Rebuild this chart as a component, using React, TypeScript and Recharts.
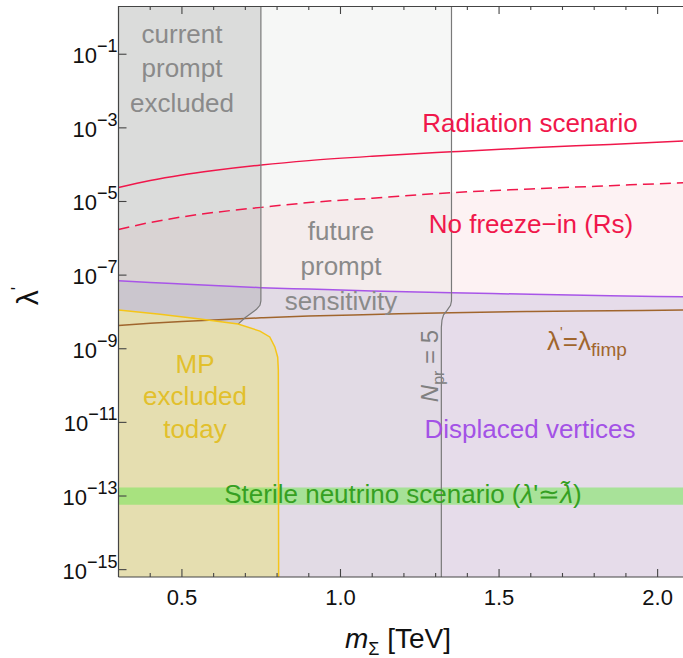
import React from 'react';
import { ComposedChart, Area, Line, XAxis, YAxis } from 'recharts';

// axis ranges (y is log10 of lambda')
const X_MIN = 0.3;
const X_MAX = 2.08;
const Y_MIN = -15.2;
const Y_MAX = 0.31;

const xTicks = [0.4, 0.5, 0.6, 0.7, 0.8, 0.9, 1.0, 1.1, 1.2, 1.3, 1.4, 1.5, 1.6, 1.7, 1.8, 1.9, 2.0];
const yTicks = [-15, -13, -11, -9, -7, -5, -3, -1];

// mass grid [TeV] and log10(lambda') of each curve
const massGrid = [0.3, 0.4, 0.5, 0.6, 0.75, 0.9, 1.1, 1.35, 1.6, 1.85, 2.08];
const radiation = [-4.62, -4.43, -4.28, -4.16, -4.01, -3.89, -3.77, -3.65, -3.54, -3.45, -3.36];
const noFreezeIn = [-5.76, -5.57, -5.42, -5.3, -5.16, -5.03, -4.91, -4.76, -4.66, -4.57, -4.49];
const displaced = [-7.15, -7.2, -7.24, -7.28, -7.34, -7.38, -7.43, -7.48, -7.52, -7.56, -7.59];
const fimp = [-8.37, -8.31, -8.26, -8.22, -8.16, -8.11, -8.07, -8.02, -7.99, -7.97, -7.95];

// current prompt boundary (top -> bottom)
const currentM = [0.749, 0.749, 0.746, 0.735, 0.7, 0.677];
const currentL = [Y_MAX, -7.7, -7.82, -7.93, -8.15, -8.33];

// future prompt boundary, N_pr = 5 (top -> bottom)
const futureM = [1.35, 1.35, 1.347, 1.336, 1.325, 1.32, 1.318, 1.318];
const futureL = [Y_MAX, -7.7, -7.82, -7.96, -8.08, -8.22, -8.42, Y_MIN];

// MP excluded today boundary (left -> right)
const mpM = [0.3, 0.431, 0.557, 0.677, 0.746, 0.777, 0.793, 0.802, 0.804, 0.805];
const mpL = [-7.95, -8.06, -8.19, -8.33, -8.52, -8.68, -8.95, -9.23, -9.58, Y_MIN];

// sterile neutrino band
const sterileLow = -13.24;
const sterileHigh = -12.77;

const toLine = (ms: number[], ls: number[]) => ms.map((m, i) => ({ m, v: ls[i] }));

const purpleArea = massGrid.map((m, i) => ({ m, r: [Y_MIN, displaced[i]] }));
const pinkArea = massGrid.map((m, i) => ({ m, r: [displaced[i], noFreezeIn[i]] }));
const futureArea = [
  { m: X_MIN, r: [Y_MIN, Y_MAX] },
  ...futureM.map((m, i) => ({ m, r: [futureL[i], Y_MAX] })).reverse(),
];
const currentArea = [
  ...mpM.slice(0, 4).map((m, i) => ({ m, r: [mpL[i], Y_MAX] })),
  ...currentM.slice(0, 5).map((m, i) => ({ m, r: [currentL[i], Y_MAX] })).reverse(),
];
const mpArea = mpM.map((m, i) => ({ m, r: [Y_MIN, mpL[i]] }));
const sterileArea = [
  { m: X_MIN, r: [sterileLow, sterileHigh] },
  { m: X_MAX, r: [sterileLow, sterileHigh] },
];

// plot box in page pixels (chart margins + axis sizes below)
const PLOT_LEFT = 118.5;
const PLOT_TOP = 6;
const PLOT_RIGHT = 683;
const PLOT_BOTTOM = 577;
const px = (m: number) => PLOT_LEFT + ((m - X_MIN) / (X_MAX - X_MIN)) * (PLOT_RIGHT - PLOT_LEFT);
const py = (l: number) => PLOT_TOP + ((Y_MAX - l) / (Y_MAX - Y_MIN)) * (PLOT_BOTTOM - PLOT_TOP);

const isMajor = (v: number) => Math.abs(v * 2 - Math.round(v * 2)) < 1e-6;

const FONT = '"Liberation Sans", Arial, sans-serif';

const BottomTick = ({ x, y, payload }: any) => {
  const v = payload.value;
  if (!isMajor(v)) return <g />;
  return (
    <text x={x} y={y + 28} textAnchor="middle" fontSize={22} fill="#111" fontFamily={FONT}>
      {v.toFixed(1)}
    </text>
  );
};

const LeftTick = ({ x, y, payload }: any) => (
  <text x={x - 1} y={y + 9} textAnchor="end" fontSize={22} fill="#111" fontFamily={FONT}>
    10
    <tspan fontSize={18} dy={-11}>{'\u2212' + Math.abs(payload.value)}</tspan>
  </text>
);

// frame ticks and text annotations, drawn over the chart
const Overlay = () => (
  <svg
    width={683}
    height={658}
    style={{ position: 'absolute', left: 0, top: 0, pointerEvents: 'none' }}
    fontFamily={FONT}
  >
    <g stroke="#444" strokeWidth={1.1}>
      <line x1={PLOT_LEFT} x2={PLOT_RIGHT} y1={PLOT_TOP + 0.5} y2={PLOT_TOP + 0.5} />
      {xTicks.map((t) => (
        <g key={t}>
          <line x1={px(t)} x2={px(t)} y1={PLOT_TOP} y2={PLOT_TOP + (isMajor(t) ? 8 : 4)} />
          <line x1={px(t)} x2={px(t)} y1={PLOT_BOTTOM} y2={PLOT_BOTTOM - (isMajor(t) ? 8 : 4)} />
        </g>
      ))}
      {yTicks.map((t) => (
        <line key={t} x1={PLOT_LEFT} x2={PLOT_LEFT + 8} y1={py(t)} y2={py(t)} />
      ))}
    </g>
    <g fontSize={26} textAnchor="middle">
      <text fill="#8a8a8a">
        <tspan x={182} y={43}>current</tspan>
        <tspan x={182} y={77}>prompt</tspan>
        <tspan x={182} y={112}>excluded</tspan>
      </text>
      <text fill="#8a8a8a">
        <tspan x={341} y={240}>future</tspan>
        <tspan x={341} y={275}>prompt</tspan>
        <tspan x={341} y={310}>sensitivity</tspan>
      </text>
      <text x={530} y={132} fill="#f0174b">Radiation scenario</text>
      <text x={531} y={233} fill="#f0174b">No freeze{'\u2212'}in (Rs)</text>
      <text fill="#e2c02c">
        <tspan x={195} y={373}>MP</tspan>
        <tspan x={195} y={405}>excluded</tspan>
        <tspan x={195} y={438}>today</tspan>
      </text>
      <text x={530} y={438} fill="#a352e6">Displaced vertices</text>
      <text x={403} y={503} fill="#35a022">
        Sterile neutrino scenario (<tspan fontStyle="italic">{'\u03bb'}</tspan>'{'\u2243'}
        <tspan fontStyle="italic">{'\u03bb\u0303'}</tspan>)
      </text>
      <text x={547} y={350} fill="#a0652d" textAnchor="start">
        {'\u03bb'}
        <tspan fontSize={14} dy={-13}>'</tspan>
        <tspan dy={13}>={'\u03bb'}</tspan>
        <tspan fontSize={19} dy={6}>fimp</tspan>
      </text>
      <text x={438} y={366} fill="#808080" fontSize={24} transform="rotate(-90, 438, 366)">
        <tspan fontStyle="italic">N</tspan>
        <tspan fontSize={16} dy={6}>pr</tspan>
        <tspan dy={-6}> = 5</tspan>
      </text>
    </g>
    <text x={345} y={648} fontSize={28} fill="#111">
      <tspan fontStyle="italic">m</tspan>
      <tspan fontSize={18} dy={7}>{'\u03a3'}</tspan>
      <tspan dy={-7}> [TeV]</tspan>
    </text>
    <text x={38} y={296} fontSize={30} fill="#111" textAnchor="middle" transform="rotate(-90, 38, 296)">
      {'\u03bb'}
      <tspan fontSize={18} dy={-14}>'</tspan>
    </text>
  </svg>
);

const App = () => {
  return (
    <div style={{ position: 'absolute', left: 0, top: 0, width: 683, height: 658, background: '#fff' }}>
      <ComposedChart width={683} height={658} margin={{ top: PLOT_TOP, right: 0, bottom: 0, left: 0 }}>
        <XAxis
          dataKey="m"
          type="number"
          domain={[X_MIN, X_MAX]}
          allowDataOverflow
          ticks={xTicks}
          tick={<BottomTick />}
          tickLine={false}
          tickSize={0}
          tickMargin={0}
          height={658 - PLOT_BOTTOM}
          axisLine={{ stroke: '#444', strokeWidth: 1.2 }}
          interval={0}
        />
        <YAxis
          type="number"
          domain={[Y_MIN, Y_MAX]}
          allowDataOverflow
          ticks={yTicks}
          tick={<LeftTick />}
          tickLine={false}
          tickSize={0}
          tickMargin={0}
          width={PLOT_LEFT}
          axisLine={{ stroke: '#444', strokeWidth: 1.2 }}
          interval={0}
        />

        {/* shaded regions */}
        <Area data={purpleArea} dataKey="r" type="linear" fill="#e6dcea" fillOpacity={1} stroke="none" isAnimationActive={false} />
        <Area data={pinkArea} dataKey="r" type="linear" fill="#fdf2f3" fillOpacity={1} stroke="none" isAnimationActive={false} />
        <Area data={futureArea} dataKey="r" type="linear" fill="#d0d8d0" fillOpacity={0.2} stroke="none" isAnimationActive={false} />
        <Area data={currentArea} dataKey="r" type="linear" fill="#808080" fillOpacity={0.23} stroke="none" isAnimationActive={false} />
        <Area data={mpArea} dataKey="r" type="linear" fill="#e5deb0" fillOpacity={1} stroke="none" isAnimationActive={false} />
        <Area data={sterileArea} dataKey="r" type="linear" fill="rgb(120,230,90)" fillOpacity={0.56} stroke="none" isAnimationActive={false} />

        {/* curves */}
        <Line data={toLine(massGrid, radiation)} dataKey="v" type="monotone" stroke="#f0174b" strokeWidth={1.5} dot={false} isAnimationActive={false} />
        <Line data={toLine(massGrid, noFreezeIn)} dataKey="v" type="monotone" stroke="#f0174b" strokeWidth={1.5} strokeDasharray="11 6" dot={false} isAnimationActive={false} />
        <Line data={toLine(massGrid, displaced)} dataKey="v" type="monotone" stroke="#a855e8" strokeWidth={1.5} dot={false} isAnimationActive={false} />
        <Line data={toLine(massGrid, fimp)} dataKey="v" type="monotone" stroke="#a0652d" strokeWidth={1.5} dot={false} isAnimationActive={false} />
        <Line data={toLine(currentM, currentL)} dataKey="v" type="linear" stroke="#7a7a7a" strokeWidth={1.2} dot={false} isAnimationActive={false} />
        <Line data={toLine(futureM, futureL)} dataKey="v" type="linear" stroke="#7a7a7a" strokeWidth={1.2} dot={false} isAnimationActive={false} />
        <Line data={toLine(mpM, mpL)} dataKey="v" type="linear" stroke="#f5c518" strokeWidth={1.5} dot={false} isAnimationActive={false} />
      </ComposedChart>
      <Overlay />
    </div>
  );
};

export default App;
